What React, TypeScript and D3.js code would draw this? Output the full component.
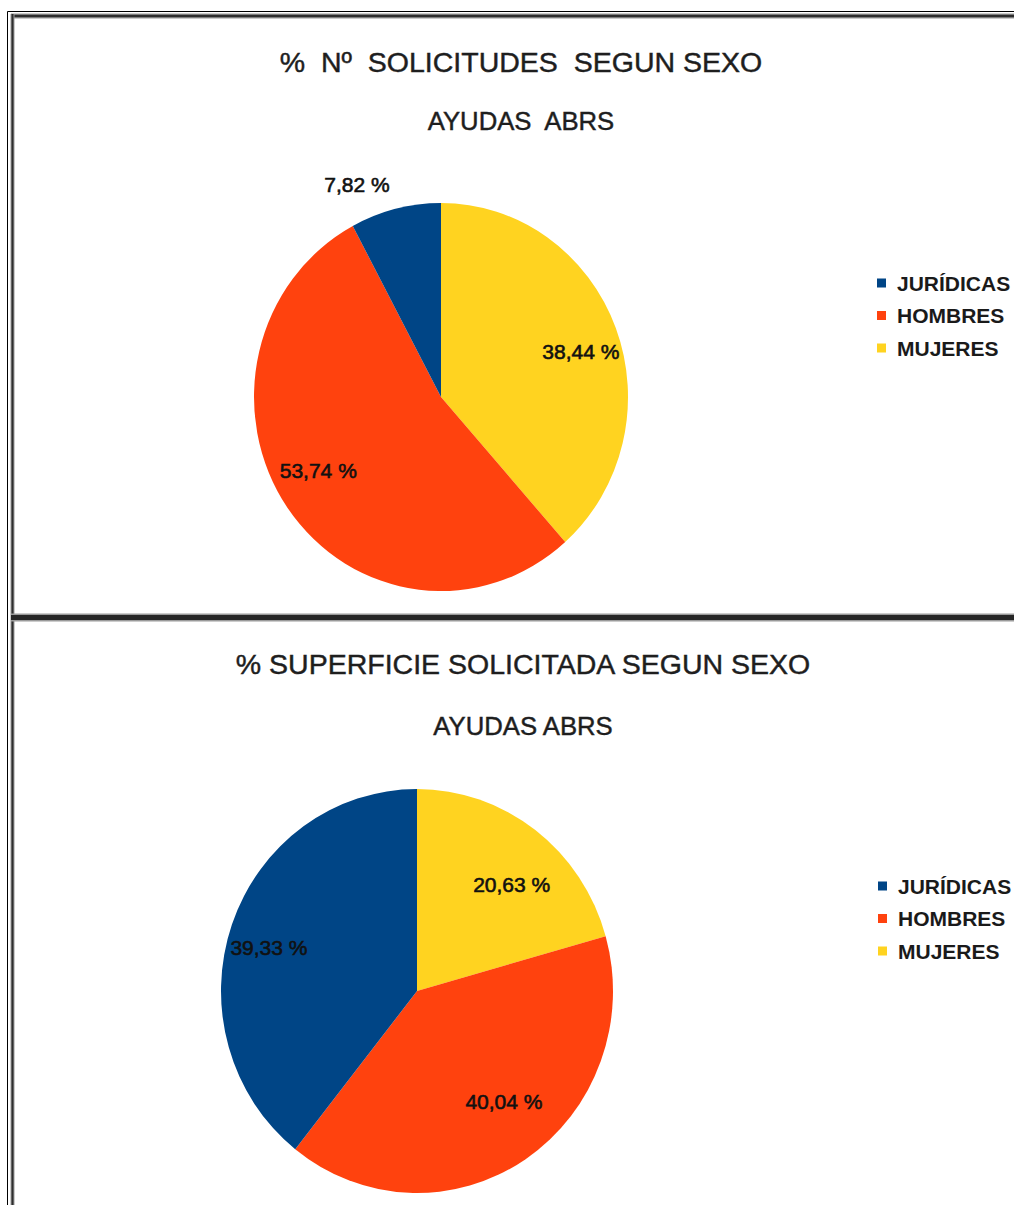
import React from "react";
import * as d3 from "d3";

const categories = ["JURÍDICAS", "HOMBRES", "MUJERES"];
const sliceColors = ["#004586", "#ff420e", "#ffd320"];
const solicitudesValues = [7.82, 53.74, 38.44];
const superficieValues = [39.33, 40.04, 20.63];
const solicitudesTitle = ["%  Nº  SOLICITUDES  SEGUN SEXO", "AYUDAS  ABRS"];
const superficieTitle = ["% SUPERFICIE SOLICITADA SEGUN SEXO", "AYUDAS ABRS"];
// slices are drawn clockwise from 12 o'clock in this category order
const drawOrder = [2, 1, 0];

const FONT = "'Liberation Sans', Arial, sans-serif";

type PieProps = {
  values: number[];
  titles: string[];
  cx: number;
  cy: number;
  rx: number;
  ry: number;
  titleX: number;
  titleY: number[];
  legendX: number;
  legendY: number;
};

function fmt(v: number) {
  return v.toFixed(2).replace(".", ",") + " %";
}

function PieChart(p: PieProps) {
  const data = drawOrder.map((i) => ({ i, v: p.values[i] }));
  const pie = d3
    .pie<{ i: number; v: number }>()
    .sort(null)
    .value((d) => d.v);
  const arcs = pie(data);
  const arc = d3.arc<d3.PieArcDatum<{ i: number; v: number }>>().innerRadius(0).outerRadius(p.ry);
  const sx = p.rx / p.ry;
  const total = d3.sum(p.values);
  const legendStep = 32.5;
  return (
    <g>
      {p.titles.map((t, k) => (
        <text
          key={k}
          x={p.titleX}
          y={p.titleY[k]}
          textAnchor="middle"
          dominantBaseline="central"
          fontFamily={FONT}
          fontSize={k === 0 ? 28.5 : 25.7}
          fill="#1e1e1e"
          stroke="#1e1e1e"
          strokeWidth={0.45}
          style={{ whiteSpace: "pre" }}
        >
          {t}
        </text>
      ))}
      <g transform={`translate(${p.cx},${p.cy}) scale(${sx},1)`}>
        {arcs.map((a) => (
          <path key={a.data.i} d={arc(a) || ""} fill={sliceColors[a.data.i]} />
        ))}
      </g>
      {arcs.map((a) => {
        const mid = (a.startAngle + a.endAngle) / 2;
        const s = Math.sin(mid);
        const c = -Math.cos(mid);
        const frac = a.data.v / total;
        const outside = frac < 0.1;
        const kx = outside ? 1.13 : 0.8;
        const ky = outside ? 1.13 : 0.66;
        const x = p.cx + p.rx * kx * s;
        const y = p.cy + p.ry * ky * c;
        return (
          <text
            key={"l" + a.data.i}
            x={x}
            y={y}
            textAnchor={outside ? (s < 0 ? "end" : "start") : "middle"}
            dominantBaseline="central"
            fontFamily={FONT}
            fontSize={21}
            fill="#111"
            stroke="#111"
            strokeWidth={0.6}
          >
            {fmt(a.data.v)}
          </text>
        );
      })}
      {categories.map((cat, i) => (
        <g key={cat} transform={`translate(${p.legendX},${p.legendY + i * legendStep})`}>
          <rect x={0} y={-4.5} width={9} height={9} fill={sliceColors[i]} />
          <text
            x={20}
            y={0}
            dominantBaseline="central"
            fontFamily={FONT}
            fontSize={21}
            fontWeight="bold"
            fill="#1a1a1a"
          >
            {cat}
          </text>
        </g>
      ))}
    </g>
  );
}

export default function App() {
  const W = 1014;
  const H = 1205;
  return (
    <svg
      width={W}
      height={H}
      style={{ position: "absolute", left: 0, top: 0, background: "#fff" }}
    >
      <rect x={0} y={0} width={W} height={H} fill="#fff" />
      {/* outer thin frame */}
      <line x1={7.5} y1={11.5} x2={W} y2={11.5} stroke="#000" strokeWidth={1} />
      <line x1={7.5} y1={11.5} x2={7.5} y2={H} stroke="#000" strokeWidth={1} />
      {/* inner thick frame */}
      <line x1={11} y1={16} x2={W} y2={16} stroke="#9a9a9a" strokeWidth={5} />
      <line x1={11} y1={16} x2={W} y2={16} stroke="#2e2e2e" strokeWidth={2.5} />
      <line x1={12.5} y1={14} x2={12.5} y2={H} stroke="#9a9a9a" strokeWidth={4} />
      <line x1={12.5} y1={14} x2={12.5} y2={H} stroke="#2e2e2e" strokeWidth={2} />
      {/* separator */}
      <line x1={11} y1={617.5} x2={W} y2={617.5} stroke="#9a9a9a" strokeWidth={8} />
      <line x1={11} y1={617.5} x2={W} y2={617.5} stroke="#262626" strokeWidth={5} />

      <PieChart
        values={solicitudesValues}
        titles={solicitudesTitle}
        cx={441}
        cy={397}
        rx={187}
        ry={194}
        titleX={521}
        titleY={[62, 121]}
        legendX={877}
        legendY={283}
      />
      <PieChart
        values={superficieValues}
        titles={superficieTitle}
        cx={417}
        cy={991}
        rx={196}
        ry={202}
        titleX={523}
        titleY={[664, 726]}
        legendX={878}
        legendY={886}
      />
    </svg>
  );
}
